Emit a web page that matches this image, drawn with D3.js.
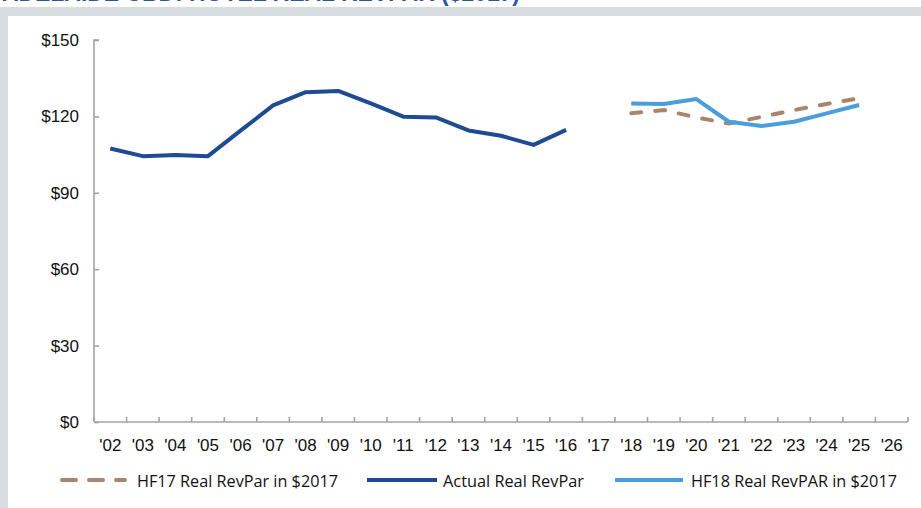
<!DOCTYPE html>
<html>
<head>
<meta charset="utf-8">
<script src="https://cdn.jsdelivr.net/npm/d3@7"></script>
<style>
  html, body { margin: 0; padding: 0; background: #ffffff; }
  svg { display: block; }
</style>
</head>
<body>
<svg id="chart" width="921" height="508"></svg>
<script>
// ---- data ----
const years = ["'02","'03","'04","'05","'06","'07","'08","'09","'10","'11","'12","'13","'14","'15","'16","'17","'18","'19","'20","'21","'22","'23","'24","'25","'26"];
const actual = [107.4,104.4,104.8,104.4,114.4,124.3,129.5,130.0,125.1,119.9,119.6,114.5,112.4,108.8,114.7,null,null,null,null,null,null,null,null,null,null];
const hf17 = [null,null,null,null,null,null,null,null,null,null,null,null,null,null,null,null,121.2,122.5,119.6,117.2,119.8,122.5,124.9,127.1,null];
const hf18 = [null,null,null,null,null,null,null,null,null,null,null,null,null,null,null,null,125.1,124.9,126.8,117.9,116.2,117.9,121.2,124.5,null];
const yTicks = [0,30,60,90,120,150];
const seriesNames = ["HF17 Real RevPar in $2017","Actual Real RevPar","HF18 Real RevPAR in $2017"];
const title = "ADELAIDE CBD: HOTEL REAL REVPAR ($2017)";

// ---- styles ----
const C_ACT = "#1f4b93", C_HF18 = "#4a9edb", C_HF17 = "#a8856c", C_AXIS = "#a3a3a3", C_GREY = "#d7dde0";

const svg = d3.select("#chart");

// background frame
svg.append("rect").attr("x",0).attr("y",7).attr("width",921).attr("height",9).attr("fill",C_GREY);
svg.append("rect").attr("x",0).attr("y",7).attr("width",8).attr("height",501).attr("fill",C_GREY);

// cut-off title (only its lower edge is visible, as in the reference)
svg.append("text").attr("x",2).attr("y",1)
  .attr("font-family","Liberation Sans, Arial, sans-serif").attr("font-weight","bold")
  .attr("font-size",24).attr("fill","#2f5597")
  .attr("textLength",518).attr("lengthAdjust","spacingAndGlyphs")
  .text(title);

const x = d3.scaleBand().domain(years).range([94, 908]).padding(0);
const y = d3.scaleLinear().domain([0,150]).range([422, 40]);

// y axis
const gy = svg.append("g").attr("transform","translate(94,0)")
  .call(d3.axisRight(y).tickValues(yTicks).tickSize(5).tickFormat(""));
gy.selectAll("path,line").attr("stroke",C_AXIS).attr("stroke-width",1.6);
gy.select(".domain").attr("d", `M5,${y(150)}H0V${y(0)}`);
svg.append("g").selectAll("text").data(yTicks).join("text")
  .attr("x",79).attr("y",d=>y(d)+6).attr("text-anchor","end")
  .attr("font-family","Liberation Sans, Arial, sans-serif").attr("font-size",17).attr("fill","#111")
  .text(d=>"$"+d);

// x axis
const gx = svg.append("g").attr("transform","translate(0,422)")
  .call(d3.axisBottom(x).tickSize(0).tickFormat(""));
gx.selectAll(".tick").remove();
gx.select(".domain").attr("d", `M94,0H908`).attr("stroke",C_AXIS).attr("stroke-width",1.6);
const bounds = years.map(d=>x(d)).concat([x(years[years.length-1])+x.bandwidth()]);
gx.selectAll("line.tk").data(bounds).join("line").attr("class","tk")
  .attr("x1",d=>d).attr("x2",d=>d).attr("y1",0).attr("y2",-5)
  .attr("stroke",C_AXIS).attr("stroke-width",1.6);
svg.append("g").selectAll("text").data(years).join("text")
  .attr("x",d=>x(d)+x.bandwidth()/2).attr("y",451).attr("text-anchor","middle")
  .attr("font-family","Liberation Sans, Arial, sans-serif").attr("font-size",17).attr("fill","#111")
  .text(d=>d);

// lines
const line = d3.line().defined(d=>d.v!=null).x(d=>x(d.k)+x.bandwidth()/2).y(d=>y(d.v));
const mk = arr => years.map((k,i)=>({k, v:arr[i]}));
svg.append("path").datum(mk(hf17)).attr("d",line).attr("fill","none")
  .attr("stroke",C_HF17).attr("stroke-width",4).attr("stroke-dasharray","10,14").attr("stroke-linecap","round");
svg.append("path").datum(mk(hf18)).attr("d",line).attr("fill","none")
  .attr("stroke",C_HF18).attr("stroke-width",4).attr("stroke-linejoin","round");
svg.append("path").datum(mk(actual)).attr("d",line).attr("fill","none")
  .attr("stroke",C_ACT).attr("stroke-width",4).attr("stroke-linejoin","round");

// legend
const legend = [
  {name: seriesNames[0], c: C_HF17, dash: true, x1: 62, x2: 125, tx: 137, tl: 201},
  {name: seriesNames[1], c: C_ACT, dash: false, x1: 367, x2: 437, tx: 443, tl: 141},
  {name: seriesNames[2], c: C_HF18, dash: false, x1: 615, x2: 683, tx: 691, tl: 206}
];
const lg = svg.append("g");
legend.forEach(l => {
  lg.append("line").attr("x1",l.x1).attr("x2",l.x2).attr("y1",480).attr("y2",480)
    .attr("stroke",l.c).attr("stroke-width",4)
    .attr("stroke-linecap", l.dash ? "round" : "butt")
    .attr("stroke-dasharray", l.dash ? "14,13" : null);
  lg.append("text").attr("x",l.tx).attr("y",486.5)
    .attr("font-family","Open Sans, Noto Sans, sans-serif").attr("font-size",15.5).attr("fill","#111")
    .attr("textLength",l.tl).attr("lengthAdjust","spacingAndGlyphs")
    .text(l.name);
});
</script>
</body>
</html>
